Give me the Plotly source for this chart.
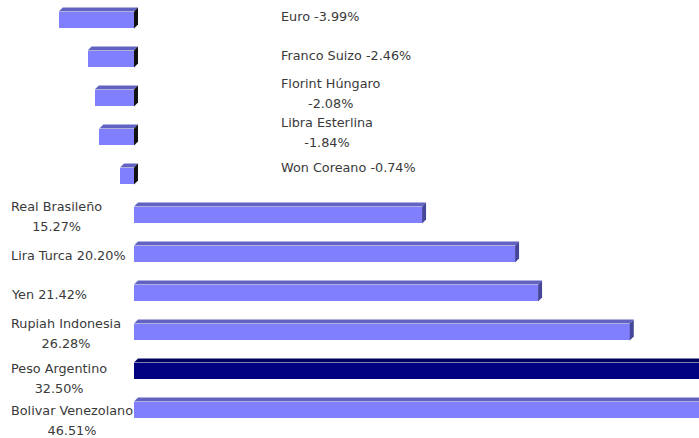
import plotly.graph_objects as go

# ---- data ----
currencies = ["Euro", "Franco Suizo", "Florint Húngaro", "Libra Esterlina", "Won Coreano",
              "Real Brasileño", "Lira Turca", "Yen", "Rupiah Indonesia", "Peso Argentino",
              "Bolivar Venezolano"]
changes = [-3.99, -2.46, -2.08, -1.84, -0.74, 15.27, 20.20, 21.42, 26.28, 32.50, 46.51]
two_line = [False, False, True, True, False, True, False, False, True, True, True]
highlight = "Peso Argentino"

# ---- style ----
W, H = 699, 438
x_range = [-7.103, 29.95]
y_range = [10.718, -0.513]
bar_w = 0.43
depth_px = 4
px_x = W / (x_range[1] - x_range[0])
px_y = H / (y_range[0] - y_range[1])
dx = depth_px / px_x
dy = depth_px / px_y

face_col = "#8080ff"
top_col = "#6262c2"
side_pos = "#46469a"
side_neg = "#111111"
hl_face = "#000080"
hl_top = "#000060"
hl_side = "#000050"

idx = list(range(len(currencies)))
face_colors = [hl_face if c == highlight else face_col for c in currencies]

fig = go.Figure()
fig.add_trace(go.Bar(y=idx, x=changes, orientation="h", width=bar_w,
                     marker=dict(color=face_colors, line=dict(width=0)),
                     hoverinfo="skip", showlegend=False))

# 3D edges derived from the data values
for i, (c, v) in enumerate(zip(currencies, changes)):
    top = i - bar_w / 2
    bot = i + bar_w / 2
    x0, x1 = (v, 0) if v < 0 else (0, v)
    tc = hl_top if c == highlight else top_col
    sc = side_neg if v < 0 else (hl_side if c == highlight else side_pos)
    fig.add_trace(go.Scatter(x=[x0, x1, x1 + dx, x0 + dx, x0],
                             y=[top, top, top - dy, top - dy, top],
                             fill="toself", fillcolor=tc, mode="none",
                             hoverinfo="skip", showlegend=False))
    fig.add_trace(go.Scatter(x=[x1, x1, x1 + dx, x1 + dx, x1],
                             y=[top, bot, bot - dy, top - dy, top],
                             fill="toself", fillcolor=sc, mode="none",
                             hoverinfo="skip", showlegend=False))

# labels
yshifts = [4, 4, 5, 5, 9, -1, -1, -1, -1, -7, -10]
for i, (c, v, tl) in enumerate(zip(currencies, changes, two_line)):
    pct = f"{v:.2f}%"
    txt = f"{c}<br>{pct}" if tl else f"{c} {pct}"
    txt = "<br>".join(f"<span style='font-size:12.8px'>{p}</span>" for p in txt.split("<br>"))
    xp = 279 / W if v < 0 else 9 / W
    fig.add_annotation(x=xp, xref="paper", y=i, yref="y", text=txt,
                       xanchor="left", yanchor="middle", align="center",
                       yshift=yshifts[i], showarrow=False,
                       font=dict(family="DejaVu Sans", size=15.4, color="#3a3a3a"))

fig.update_layout(
    width=W, height=H, margin=dict(l=0, r=0, t=0, b=0),
    paper_bgcolor="white", plot_bgcolor="white", bargap=0,
    xaxis=dict(range=x_range, visible=False, fixedrange=True),
    yaxis=dict(range=y_range, visible=False, fixedrange=True),
)
fig.write_html("out.html", config={"displayModeBar": False},
               post_script="document.body.style.margin='0';")
